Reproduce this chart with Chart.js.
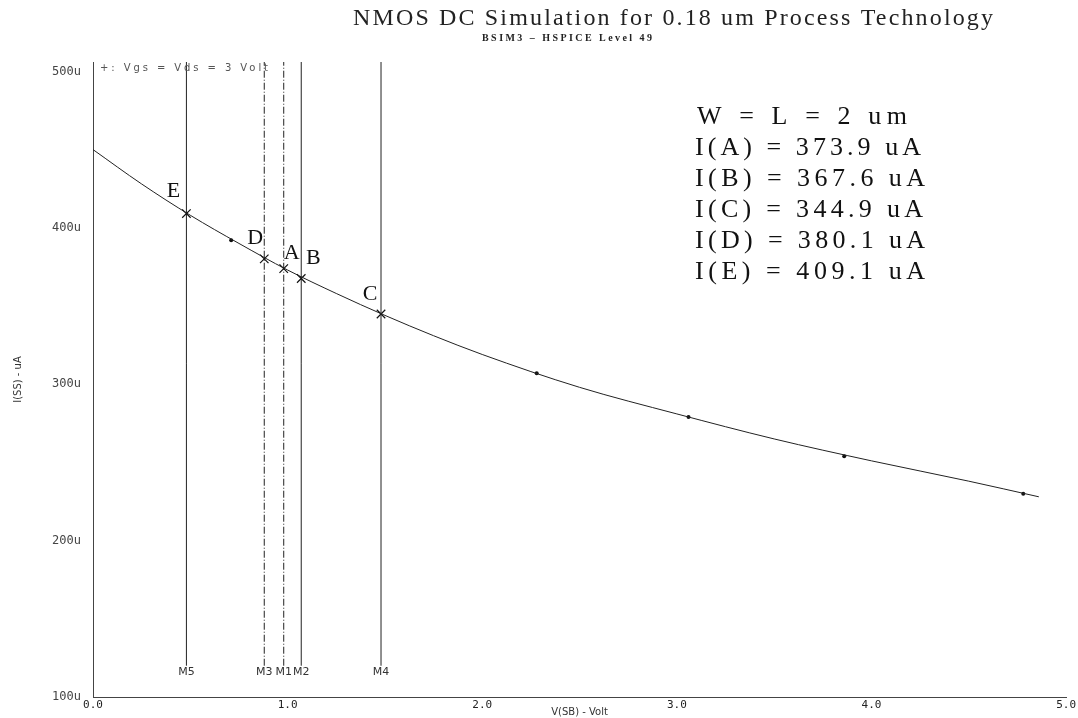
<!DOCTYPE html>
<html>
<head>
<meta charset="utf-8">
<script src="https://cdn.jsdelivr.net/npm/chart.js@4.4.0/dist/chart.umd.min.js"></script>
<style>
  html, body { margin: 0; padding: 0; background: #fff; }
  #wrap { width: 1078px; height: 718px; }
</style>
</head>
<body>
<div id="wrap"><canvas id="dcChart" width="1078" height="718"></canvas></div>
<script>
// I(SS) vs V(SB) curve
const curveV = [0, 0.25, 0.5, 0.75, 1.0, 1.25, 1.5, 1.75, 2.0, 2.5, 3.0, 3.5, 4.0, 4.5, 4.86];
const curveI = [450, 428, 408, 390, 373, 358, 344, 331, 319, 298, 281, 265, 251, 238, 228];

// small simulation dots along the curve
const dotV = [0.71, 2.28, 3.06, 3.86, 4.78];
const dotI = [392, 307, 279, 254, 230];

// labelled operating points
const markNames = ['A', 'B', 'C', 'D', 'E'];
const markV = [0.98, 1.07, 1.48, 0.88, 0.48];
const markI = [373.9, 367.6, 344.9, 380.1, 409.1];

// cursor lines
const cursorNames = ['M5', 'M3', 'M1', 'M2', 'M4'];
const cursorV = [0.48, 0.88, 0.98, 1.07, 1.48];
const cursorLow = 120, cursorHigh = 506;

const xTicks = [0, 1, 2, 3, 4, 5];
const yTicks = [100, 200, 300, 400, 500];

const infoLines = ['W = L = 2 um'].concat(markNames.map((n, i) => 'I(' + n + ') = ' + markI[i].toFixed(1) + ' uA'));

function spaced(ctx, text, x, y, width) {
    ctx.letterSpacing = '0px';
    const w = ctx.measureText(text).width;
    const ls = (width - w) / (text.length - 1);
    ctx.letterSpacing = ls + 'px';
    ctx.fillText(text, x, y);
    ctx.letterSpacing = '0px';
}

const textPlugin = {
    id: 'texts',
    afterDatasetsDraw(chart) {
        const ctx = chart.ctx;
        const xs = chart.scales.x, ys = chart.scales.y;
        ctx.save();
        ctx.fillStyle = '#222';
        ctx.textBaseline = 'middle';
        ctx.textAlign = 'left';

        ctx.font = '24px "Liberation Serif"';
        spaced(ctx, 'NMOS DC Simulation for 0.18 um Process Technology', 353, 19, 640);
        ctx.font = 'bold 10px "Liberation Serif"';
        spaced(ctx, 'BSIM3 \u2013 HSPICE Level 49', 482, 38, 170);

        ctx.fillStyle = '#555';
        ctx.font = '10px "DejaVu Sans"';
        spaced(ctx, '+: Vgs = Vds = 3 Volt', 100, 68, 168);

        // info box
        ctx.fillStyle = '#111';
        ctx.font = '26px "Liberation Serif"';
        const widths = [210, 226, 230, 228, 230, 230];
        infoLines.forEach((t, i) => {
            spaced(ctx, t, i === 0 ? 697 : 695, 117 + i * 31, widths[i]);
        });

        // point letters
        const offs = { A: [8, -15], B: [12, -20], C: [-11, -20], D: [-9, -21], E: [-13, -22] };
        ctx.font = '22px "Liberation Serif"';
        ctx.textAlign = 'center';
        markNames.forEach((n, i) => {
            const px = xs.getPixelForValue(markV[i]);
            const py = ys.getPixelForValue(markI[i]);
            ctx.fillText(n, px + offs[n][0], py + offs[n][1]);
        });

        // cursor names
        ctx.font = '11px "DejaVu Sans"';
        ctx.fillStyle = '#333';
        cursorNames.forEach((n, i) => {
            const px = xs.getPixelForValue(cursorV[i]);
            ctx.fillText(n, px, 672);
        });
        ctx.restore();
    }
};

const cursorSets = cursorV.map((v, i) => ({
    label: cursorNames[i],
    data: [{ x: v, y: cursorLow }, { x: v, y: cursorHigh }],
    showLine: true,
    borderColor: '#222',
    borderWidth: 1,
    borderDash: (cursorNames[i] === 'M3' || cursorNames[i] === 'M1') ? [7, 2, 1, 2] : [],
    pointRadius: 0
}));

new Chart(document.getElementById('dcChart').getContext('2d'), {
    type: 'scatter',
    data: {
        datasets: [{
            label: 'I(SS)',
            data: curveV.map((v, i) => ({ x: v, y: curveI[i] })),
            showLine: true,
            cubicInterpolationMode: 'monotone',
            borderColor: '#222',
            borderWidth: 1,
            pointRadius: 0
        }, {
            label: 'dots',
            data: dotV.map((v, i) => ({ x: v, y: dotI[i] })),
            pointRadius: 2,
            backgroundColor: '#111',
            borderWidth: 0
        }, {
            label: 'marks',
            data: markV.map((v, i) => ({ x: v, y: markI[i] })),
            pointStyle: 'crossRot',
            pointRadius: 6,
            borderColor: '#111',
            borderWidth: 1.2
        }].concat(cursorSets)
    },
    options: {
        responsive: false,
        animation: false,
        layout: { padding: { top: 62, right: 11, left: 0, bottom: 0 } },
        plugins: {
            legend: { display: false },
            tooltip: { enabled: false }
        },
        scales: {
            x: {
                type: 'linear',
                min: 0,
                max: 5,
                afterBuildTicks: s => { s.ticks = xTicks.map(v => ({ value: v })); },
                afterFit: s => { s.height = 21; },
                ticks: {
                    padding: 2,
                    color: '#222',
                    font: { family: 'DejaVu Sans Mono', size: 11 },
                    callback: v => v.toFixed(1)
                },
                grid: { display: false, drawTicks: false },
                border: { display: true, color: '#444', dash: [4, 3] },
                title: {
                    display: true,
                    text: 'V(SB) - Volt',
                    color: '#333',
                    padding: 0,
                    font: { family: 'DejaVu Sans', size: 10 }
                }
            },
            y: {
                type: 'linear',
                min: 100,
                max: 506,
                afterBuildTicks: s => { s.ticks = yTicks.map(v => ({ value: v })); },
                afterFit: s => { s.width = 93; },
                ticks: {
                    padding: 12,
                    color: '#444',
                    font: { family: 'DejaVu Sans Mono', size: 12 },
                    callback: v => v + 'u'
                },
                grid: { display: false, drawTicks: false },
                border: { display: true, color: '#444', dash: [4, 3] },
                title: {
                    display: true,
                    text: 'I(SS) - uA',
                    color: '#333',
                    padding: 12,
                    font: { family: 'DejaVu Sans', size: 10 }
                }
            }
        }
    },
    plugins: [textPlugin]
});
</script>
</body>
</html>
